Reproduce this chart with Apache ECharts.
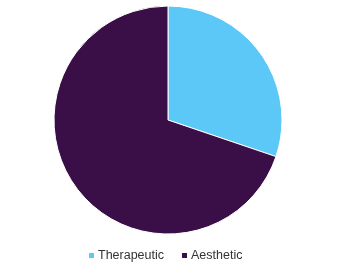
<!DOCTYPE html>
<html><head><meta charset="utf-8">
<script src="https://cdn.jsdelivr.net/npm/echarts@6/dist/echarts.min.js"></script>
<style>html,body{margin:0;padding:0;background:#fff}#c{width:338px;height:265px}</style>
</head><body><div id="c"></div>
<script>
var categories = ["Therapeutic", "Aesthetic"];
var values = [30.2, 69.8];
var colors = ["#5bc8f7", "#3a0f47"];
var chart = echarts.init(document.getElementById('c'), null, {renderer: 'canvas'});
chart.setOption({
  animation: false,
  color: colors,
  legend: {
    top: 249, left: 87,
    padding: 0,
    itemWidth: 7, itemHeight: 7, itemGap: 16,
    icon: 'rect',
    textStyle: {fontFamily: 'Liberation Sans, Arial', fontSize: 12.5, color: '#333', padding: [0, 0, 0, -2]},
    data: categories
  },
  series: [{
    type: 'pie',
    center: [168, 120],
    radius: [0, 114],
    startAngle: 90,
    clockwise: true,
    label: {show: false},
    labelLine: {show: false},
    itemStyle: {borderColor: '#fff', borderWidth: 1},
    data: categories.map(function(c, i){ return {name: c, value: values[i]}; })
  }]
});
</script></body></html>
